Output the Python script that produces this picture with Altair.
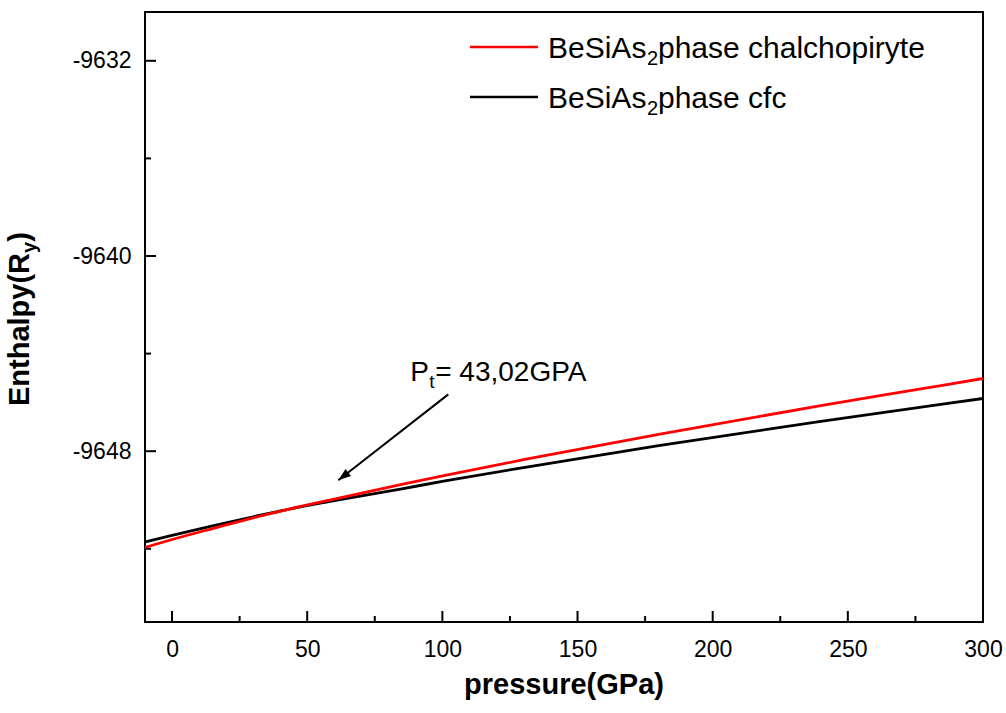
import altair as alt
import pandas as pd

# ---------------- data ----------------
pressure = [-10, 0, 15, 30, 43, 60, 85, 101, 130, 180, 240, 285, 300]
h_chalco = [-9651.94, -9651.62, -9651.17, -9650.73, -9650.38, -9649.96, -9649.36,
            -9648.99, -9648.35, -9647.31, -9646.13, -9645.30, -9645.02]
h_cfc = [-9651.72, -9651.45, -9651.06, -9650.69, -9650.38, -9650.03, -9649.54,
         -9649.22, -9648.67, -9647.77, -9646.78, -9646.07, -9645.84]

x_major = [0, 50, 100, 150, 200, 250, 300]
x_minor = [25, 75, 125, 175, 225, 275]
y_major = [-9632, -9640, -9648]
y_minor = [-9636, -9644, -9652]

arrow_from_x = [102.2]
arrow_from_y = [-9645.67]
arrow_to_x = [61.5]
arrow_to_y = [-9649.19]
note_x = [88.1]
note_y = [-9645.14]

# ---------------- layout ----------------
W, H = 838, 610
FONT = "Liberation Sans"

xscale = alt.Scale(domain=[-10, 300], nice=False, zero=False)
yscale = alt.Scale(domain=[-9655, -9630], nice=False, zero=False)

x_axis = alt.Axis(values=x_major, ticks=False, domain=False, grid=False, title=None,
                  labelFontSize=23, labelFont=FONT, labelColor="black", labelPadding=16,
                  labelFlush=False)
y_axis = alt.Axis(values=y_major, ticks=False, domain=False, grid=False, title=None,
                  labelFontSize=23, labelFont=FONT, labelColor="black", labelPadding=14,
                  labelExpr="toString(datum.value)")

df_chalco = pd.DataFrame({"pressure": pressure, "enthalpy": h_chalco})
df_cfc = pd.DataFrame({"pressure": pressure, "enthalpy": h_cfc})

line_cfc = alt.Chart(df_cfc).mark_line(color="black", strokeWidth=2.8, clip=True,
                                        interpolate="monotone").encode(
    x=alt.X("pressure:Q", scale=xscale, axis=x_axis),
    y=alt.Y("enthalpy:Q", scale=yscale, axis=y_axis),
)
line_chalco = alt.Chart(df_chalco).mark_line(color="#ff0000", strokeWidth=2.8, clip=True,
                                              interpolate="monotone").encode(
    x=alt.X("pressure:Q", scale=xscale, axis=x_axis),
    y=alt.Y("enthalpy:Q", scale=yscale, axis=y_axis),
)

# inward ticks
xt_major = alt.Chart(pd.DataFrame({"v": x_major})).mark_rule(color="black", strokeWidth=2).encode(
    x=alt.X("v:Q", scale=xscale, axis=x_axis), y=alt.value(H), y2=alt.value(H - 11))
xt_minor = alt.Chart(pd.DataFrame({"v": x_minor})).mark_rule(color="black", strokeWidth=2).encode(
    x=alt.X("v:Q", scale=xscale, axis=x_axis), y=alt.value(H), y2=alt.value(H - 6))
yt_major = alt.Chart(pd.DataFrame({"v": y_major})).mark_rule(color="black", strokeWidth=2).encode(
    y=alt.Y("v:Q", scale=yscale, axis=y_axis), x=alt.value(0), x2=alt.value(11))
yt_minor = alt.Chart(pd.DataFrame({"v": y_minor})).mark_rule(color="black", strokeWidth=2).encode(
    y=alt.Y("v:Q", scale=yscale, axis=y_axis), x=alt.value(0), x2=alt.value(6))

# arrow annotation
arrow_df = pd.DataFrame({"x": arrow_from_x, "y": arrow_from_y, "x2": arrow_to_x, "y2": arrow_to_y})
arrow_line = alt.Chart(arrow_df).mark_rule(color="black", strokeWidth=2).encode(
    x=alt.X("x:Q", scale=xscale, axis=x_axis), y=alt.Y("y:Q", scale=yscale, axis=y_axis),
    x2="x2:Q", y2="y2:Q")
arrow_head = alt.Chart(arrow_df).mark_point(shape="M0,0L-0.7,2L0.7,2Z", filled=True, size=160,
                                            angle=232, color="black", opacity=1).encode(
    x=alt.X("x2:Q", scale=xscale, axis=x_axis), y=alt.Y("y2:Q", scale=yscale, axis=y_axis))

note_df = pd.DataFrame({"x": note_x, "y": note_y})
def note_part(text, dx, dy, size):
    return alt.Chart(note_df).mark_text(text=text, align="left", baseline="alphabetic",
                                        font=FONT, fontSize=size, color="black",
                                        dx=dx, dy=dy).encode(
        x=alt.X("x:Q", scale=xscale, axis=x_axis), y=alt.Y("y:Q", scale=yscale, axis=y_axis))
note = note_part("P", 0, 0, 28) + note_part("t", 19, 7, 19) + note_part("= 43,02GPA", 25, 0, 28)

# legend (hand-built to allow subscripts)
LFS = 30
def legend_row(color, tail, ly):
    line = alt.Chart(note_df).mark_rule(color=color, strokeWidth=2.6).encode(
        x=alt.value(325), x2=alt.value(393), y=alt.value(ly))
    t1 = alt.Chart(note_df).mark_text(text="BeSiAs", align="left", baseline="alphabetic",
                                      font=FONT, fontSize=LFS, color="black").encode(
        x=alt.value(403), y=alt.value(ly + 11))
    t2 = alt.Chart(note_df).mark_text(text="2", align="left", baseline="alphabetic",
                                      font=FONT, fontSize=20, color="black").encode(
        x=alt.value(403 + 99), y=alt.value(ly + 18))
    t3 = alt.Chart(note_df).mark_text(text=tail, align="left", baseline="alphabetic",
                                      font=FONT, fontSize=LFS, color="black").encode(
        x=alt.value(403 + 110), y=alt.value(ly + 11))
    return line + t1 + t2 + t3

legend = legend_row("#ff0000", "phase chalchopiryte", 35) + legend_row("black", "phase cfc", 85)

# axis titles
x_title = alt.Chart(note_df).mark_text(text="pressure(GPa)", align="center", baseline="alphabetic",
                                       font=FONT, fontSize=29, fontWeight="bold", color="black").encode(
    x=alt.value(W / 2), y=alt.value(682))

TFS = 29
yt_base = -116
yt_start = 394
len_main = 5.278 * TFS
len_sub = 0.556 * 20
def ytitle_part(text, ypos, size, xoff):
    return alt.Chart(note_df).mark_text(text=text, align="left", baseline="alphabetic", angle=270,
                                        font=FONT, fontSize=size, fontWeight="bold", color="black").encode(
        x=alt.value(yt_base + xoff), y=alt.value(ypos))
y_title = (ytitle_part("Enthalpy(R", yt_start, TFS, 0)
           + ytitle_part("y", yt_start - len_main, 20, 7)
           + ytitle_part(")", yt_start - len_main - len_sub, TFS, 0))

chart = alt.layer(
    xt_major, xt_minor, yt_major, yt_minor,
    line_cfc, line_chalco,
    arrow_line, arrow_head, note, legend, x_title, y_title,
).properties(
    width=W, height=H,
    autosize=alt.AutoSizeParams(type="none"),
    padding={"left": 145, "top": 12, "right": 23, "bottom": 91},
    background="white",
).configure_view(stroke="black", strokeWidth=2)

chart.save("out.html", embed_options={"renderer": "svg", "actions": False})
